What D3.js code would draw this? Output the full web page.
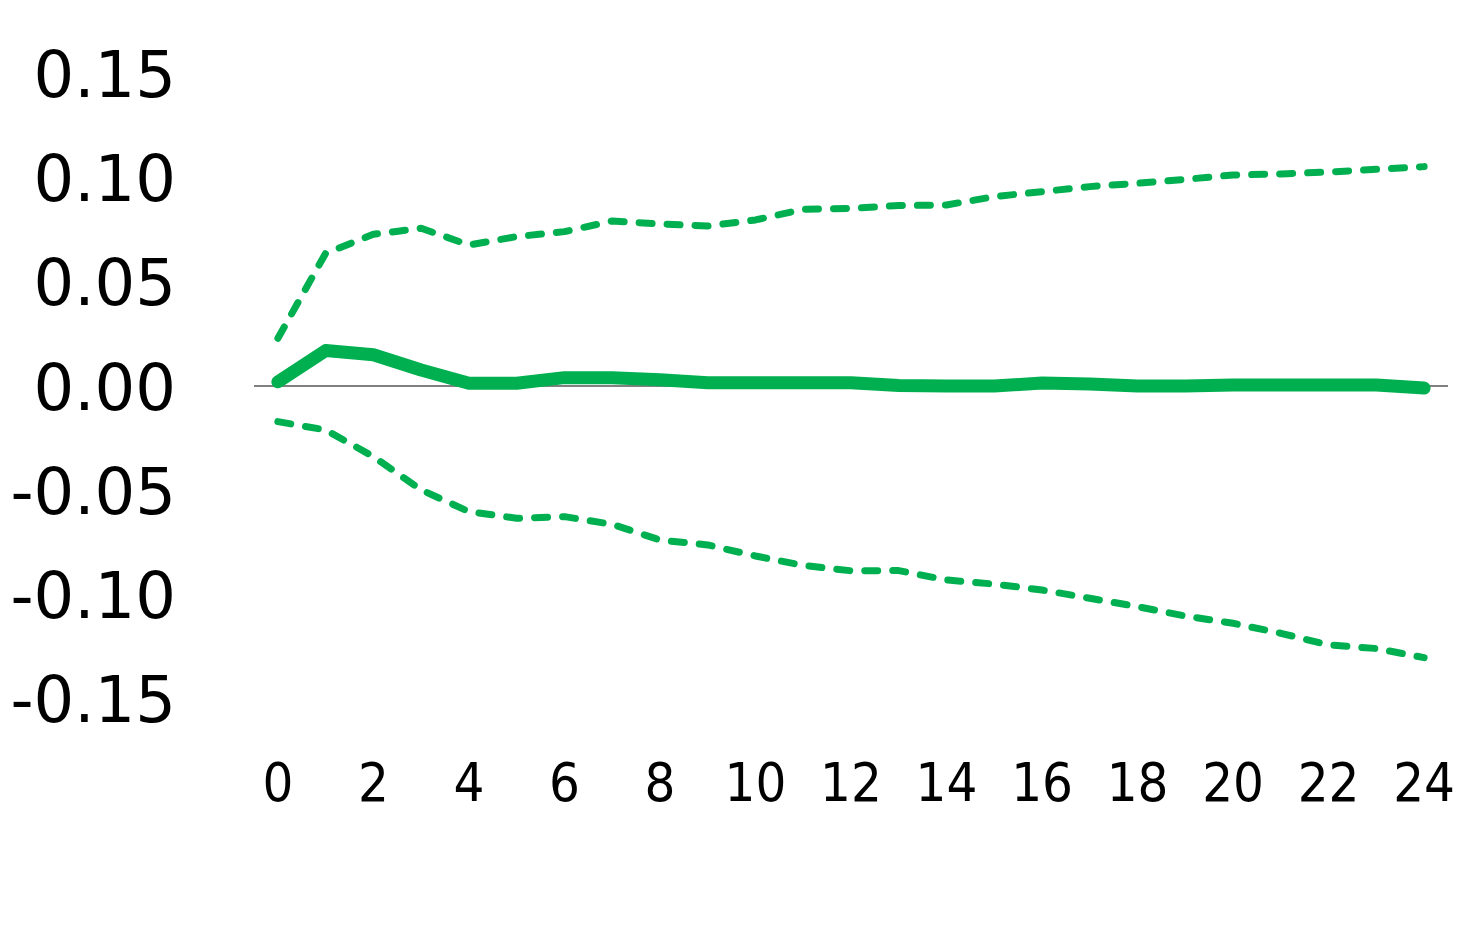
<!DOCTYPE html>
<html><head><meta charset="utf-8">
<script src="https://cdn.jsdelivr.net/npm/d3@7"></script>
<style>html,body{margin:0;padding:0;background:#fff;}</style>
</head><body>
<svg id="chart" width="1478" height="947"></svg>
<script>
const periods = d3.range(0, 25);
const response = [0.002,0.017,0.015,0.0077,0.0013,0.0013,0.004,0.004,0.003,0.0016,0.0016,0.0016,0.0016,0.0002,0,0,0.0014,0.001,0,0,0.0005,0.0005,0.0005,0.0005,-0.001];
const upper = [0.0229,0.0637,0.0728,0.0757,0.0677,0.0717,0.0741,0.0792,0.0778,0.0768,0.0797,0.0848,0.0853,0.0866,0.0869,0.0909,0.0933,0.0957,0.0973,0.0992,0.1013,0.1018,0.1027,0.104,0.1053];
const lower = [-0.0171,-0.0211,-0.0339,-0.0499,-0.0603,-0.0635,-0.0627,-0.0664,-0.0739,-0.0763,-0.0816,-0.0861,-0.0887,-0.0886,-0.0931,-0.0951,-0.0979,-0.1019,-0.1059,-0.1104,-0.1139,-0.1187,-0.1243,-0.126,-0.1304];
const yTicks = [0.15,0.10,0.05,0.00,-0.05,-0.10,-0.15];
const yTickLabels = ["0.15","0.10","0.05","0.00","-0.05","-0.10","-0.15"];
const xTicks = d3.range(0, 25, 2);

const svg = d3.select("#chart");
const x = d3.scaleBand().domain(periods).range([254, 1448]);
const y = d3.scaleLinear().domain([-0.15, 0.15]).range([698.5, 73.5]);
const cx = d => x(d) + x.bandwidth() / 2;

// zero line
svg.append("line").attr("x1", 254).attr("x2", 1448)
  .attr("y1", y(0)).attr("y2", y(0))
  .attr("stroke", "#808080").attr("stroke-width", 2);

// y axis labels
const yAxis = d3.axisLeft(y).tickValues(yTicks)
  .tickFormat((d, i) => yTickLabels[i]).tickSize(0).tickPadding(0);
const gy = svg.append("g").attr("transform", "translate(176,0)").call(yAxis);
gy.select(".domain").remove();
gy.selectAll("text").attr("font-family", "DejaVu Sans, sans-serif").attr("font-size", 64)
  .attr("fill", "#000").attr("dy", "0.36em");

// x axis labels
const xAxis = d3.axisBottom(x).tickValues(xTicks).tickSize(0).tickPadding(0);
const gx = svg.append("g").attr("transform", "translate(0,762)").call(xAxis);
gx.select(".domain").remove();
gx.selectAll("text").attr("font-family", "DejaVu Sans Condensed, DejaVu Sans, sans-serif")
  .attr("font-size", 54).attr("fill", "#000").attr("dy", "0.72em");

const line = d3.line().x((d, i) => cx(periods[i])).y(d => y(d));
const green = "#00B050";

svg.append("path").datum(upper).attr("d", line).attr("fill", "none")
  .attr("stroke", green).attr("stroke-width", 7).attr("stroke-linecap", "round")
  .attr("stroke-linejoin", "round").attr("stroke-dasharray", "13 15");
svg.append("path").datum(lower).attr("d", line).attr("fill", "none")
  .attr("stroke", green).attr("stroke-width", 7).attr("stroke-linecap", "round")
  .attr("stroke-linejoin", "round").attr("stroke-dasharray", "13 15");
svg.append("path").datum(response).attr("d", line).attr("fill", "none")
  .attr("stroke", green).attr("stroke-width", 13).attr("stroke-linecap", "round")
  .attr("stroke-linejoin", "round");
</script>
</body></html>
